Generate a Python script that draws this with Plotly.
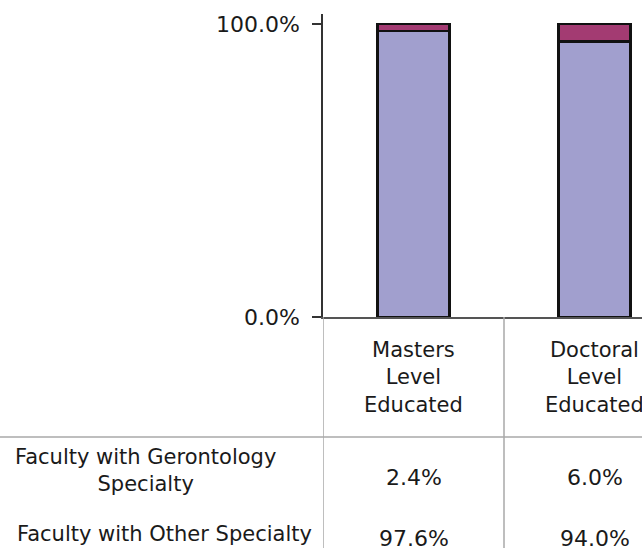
import plotly.graph_objects as go

categories = ["Masters<br>Level<br>Educated", "Doctoral<br>Level<br>Educated"]
series_names = ["Faculty with Other Specialty", "Faculty with Gerontology<br>Specialty"]
other_vals = [97.6, 94.0]
geron_vals = [2.4, 6.0]
tick_vals = [0, 100]
tick_text = ["0.0%", "100.0%"]

W, H = 642, 548
L, T = 323, 14
plot_bottom = 317
B = H - plot_bottom
plot_h = H - T - B
plot_w = W - L

def py(y):
    """window pixel y -> paper y"""
    return (plot_bottom - y) / plot_h

def px(x):
    """window pixel x -> paper x"""
    return (x - L) / plot_w

FONT = "DejaVu Sans"
FS = 21
FN = 22
TXT = "#1a1a1a"

xs = list(range(len(categories)))

fig = go.Figure()
fig.add_trace(go.Bar(x=xs, y=other_vals, width=0.4,
                     marker=dict(color="#A19FCE", line=dict(color="#111111", width=2.5)),
                     name=series_names[0]))
fig.add_trace(go.Bar(x=xs, y=geron_vals, width=0.4,
                     marker=dict(color="#A33B72", line=dict(color="#111111", width=2.5)),
                     name=series_names[1]))

ann = []
# category header labels
for i, c in enumerate(categories):
    ann.append(dict(x=i, y=py(378), xref="x", yref="paper", text=c, showarrow=False,
                    font=dict(family=FONT, size=FS, color=TXT), align="center",
                    xanchor="center", yanchor="middle"))
# row labels
row_label_y = [470, 534]
row_label_x = [145, 164]
row_val_y = [478, 538]
row_vals = [geron_vals, other_vals]
row_names = [series_names[1], series_names[0]]
for r in range(2):
    ann.append(dict(x=px(row_label_x[r]), y=py(row_label_y[r]), xref="paper", yref="paper",
                    text=row_names[r], showarrow=False,
                    font=dict(family=FONT, size=FS, color=TXT), align="center",
                    xanchor="center", yanchor="middle"))
    for i in xs:
        ann.append(dict(x=i, y=py(row_val_y[r]), xref="x", yref="paper",
                        text=f"{row_vals[r][i]:.1f}%", showarrow=False,
                        font=dict(family=FONT, size=FN, color=TXT),
                        xanchor="center", yanchor="middle"))

shapes = [
    dict(type="line", xref="paper", yref="paper", x0=px(0), x1=1, y0=py(437), y1=py(437),
         line=dict(color="#a8a8a8", width=1.5)),
    dict(type="line", xref="x", yref="paper", x0=-0.5, x1=-0.5, y0=py(317), y1=py(560),
         line=dict(color="#a8a8a8", width=1.5)),
    dict(type="line", xref="x", yref="paper", x0=0.5, x1=0.5, y0=py(317), y1=py(560),
         line=dict(color="#a8a8a8", width=1.5)),
]

fig.update_layout(
    width=W, height=H, barmode="stack", showlegend=False,
    margin=dict(l=L, r=0, t=T, b=B, pad=0),
    plot_bgcolor="white", paper_bgcolor="white",
    xaxis=dict(range=[-0.5, -0.5 + plot_w / 181], showticklabels=False, showgrid=False,
               zeroline=False, showline=True, linecolor="#555555", linewidth=1.5, ticks=""),
    yaxis=dict(range=[0, 103.4], tickvals=tick_vals, ticktext=tick_text, showgrid=False,
               zeroline=False, showline=True, linecolor="#333333", linewidth=1.5,
               ticks="outside", ticklen=9, tickcolor="#333333", tickwidth=1.5,
               ticklabelstandoff=8,
               tickfont=dict(family=FONT, size=FN, color=TXT)),
    annotations=ann, shapes=shapes,
)

fig.write_html("out.html",
               config={"displayModeBar": False},
               post_script="document.body.style.margin='0';document.body.style.overflow='hidden';")
